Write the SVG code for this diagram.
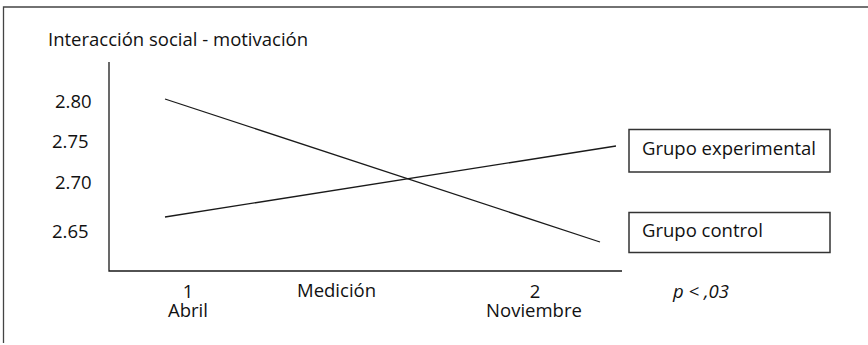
<svg xmlns="http://www.w3.org/2000/svg" width="868" height="345" viewBox="0 0 868 345">
<style>
text{font-family:"Open Sans","Noto Sans",sans-serif;font-size:18.5px;fill:#111}
.ax{stroke:#1a1a1a;stroke-width:1.3;fill:none}
.ln{stroke:#1a1a1a;stroke-width:1.3;fill:none}
.box{fill:#fff;stroke:#333;stroke-width:1.5}
.frame{stroke:#444;stroke-width:1.3;fill:none}
.mid{text-anchor:middle}
</style>
<rect width="868" height="345" fill="#fff"/>
<g id="frame"><path class="frame" d="M3.5,343 V7 H868"/></g>
<g id="title"><text x="48" y="46">Interacción social - motivación</text></g>
<g id="axes">
<path class="ax" d="M109,62 V271 H622"/>
<text x="55" y="108">2.80</text>
<text x="52" y="148">2.75</text>
<text x="55" y="189">2.70</text>
<text x="52" y="238">2.65</text>
<text class="mid" x="188" y="298">1</text>
<text class="mid" x="188" y="317">Abril</text>
<text x="297" y="297">Medición</text>
<text class="mid" x="535" y="298">2</text>
<text class="mid" x="534" y="317">Noviembre</text>
<text x="673" y="298" font-style="italic">p &lt; ,03</text>
</g>
<g id="connectors">
<line class="ln" x1="165" y1="217" x2="616" y2="146"/>
<line class="ln" x1="165" y1="99" x2="600" y2="242"/>
</g>
<g id="grupo-experimental">
<rect class="box" x="629" y="129.5" width="201" height="42.5"/>
<text x="642" y="155">Grupo experimental</text>
</g>
<g id="grupo-control">
<rect class="box" x="629" y="212.5" width="201" height="40"/>
<text x="642" y="237">Grupo control</text>
</g>
</svg>
